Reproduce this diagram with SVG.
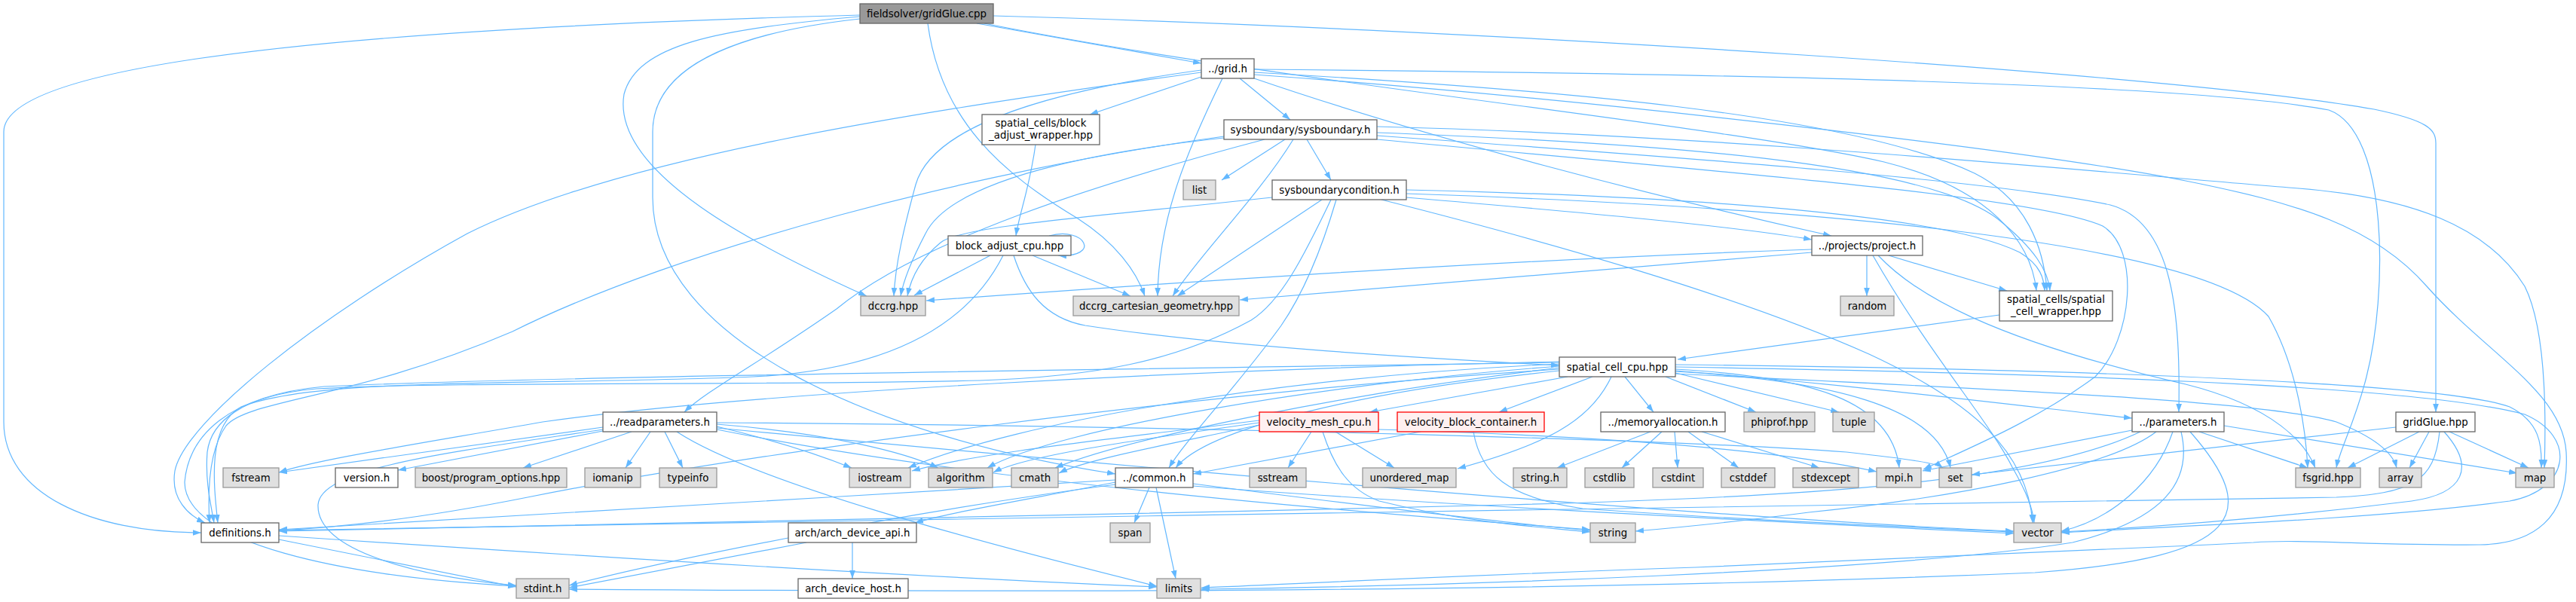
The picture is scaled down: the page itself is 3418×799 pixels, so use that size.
<svg xmlns="http://www.w3.org/2000/svg" width="3418" height="799" viewBox="0 0 3418 799">
<defs>
<marker id="ah" viewBox="0 0 10 7" refX="10" refY="3.5" markerWidth="11" markerHeight="8" markerUnits="userSpaceOnUse" orient="auto">
<path d="M0,0 L10,3.5 L0,7 z" fill="#63B8FF"/>
</marker>
<style>
.e{fill:none;stroke:#63B8FF;stroke-width:1.2;marker-end:url(#ah)}
.w{fill:#ffffff;stroke:#666666;stroke-width:1.3}
.g{fill:#E0E0E0;stroke:#999999;stroke-width:1.3}
.r{fill:#999999;stroke:#666666;stroke-width:1.3}
.x{fill:#FFF0F0;stroke:#FF0000;stroke-width:1.3}
text{font-family:"DejaVu Sans","Liberation Sans",sans-serif;font-size:13.33px;fill:#000000;text-anchor:middle}
</style>
</defs>
<rect width="3418" height="799" fill="#ffffff"/>
<g id="edges">
<path class="e" d="M1141,20 C400,40 5,90 5,175 L5,560 C5,655 120,707 267,707"/>
<path class="e" d="M1296,31 L1594,84"/>
<path class="e" d="M1141,22 C950,38 845,60 828,125 C810,230 1010,330 1150,393"/>
<path class="e" d="M1141,25 C960,45 866,95 866,175 L866,262 C866,450 1160,580 1480,629"/>
<path class="e" d="M1231,31 C1248,160 1330,230 1430,290 C1480,322 1508,360 1519,393"/>
<path class="e" d="M1306,31 C1700,110 2280,165 2500,215 C2640,250 2695,320 2702,386"/>
<path class="e" d="M1318,21 C2000,40 2900,100 3150,145 C3222,160 3232,172 3232,190 L3232,547"/>
<path class="e" d="M1594,102 L1446,152"/>
<path class="e" d="M1645,104 L1712,159"/>
<path class="e" d="M1622,104 C1575,200 1537,290 1536,393"/>
<path class="e" d="M1594,93 C1360,125 1235,175 1215,245 C1200,300 1188,350 1186,393"/>
<path class="e" d="M1594,96 C1200,150 820,210 620,310 C420,420 245,560 232,625 C226,662 250,684 272,694"/>
<path class="e" d="M1664,92 C2300,98 2900,110 3090,146 C3170,175 3168,390 3140,500 C3125,560 3104,598 3100,621"/>
<path class="e" d="M1664,104 C1900,185 2200,262 2430,313"/>
<path class="e" d="M1664,96 C2050,118 2450,150 2620,230 C2690,265 2712,330 2716,386"/>
<path class="e" d="M1664,99 C2100,130 2700,200 2900,240 C3050,270 3150,300 3220,380 C3300,470 3400,520 3405,600 C3410,690 3360,722 3290,723 C3150,724 3050,715 2990,720 C2700,735 2400,748 2250,753 C1900,765 1700,776 1594,780"/>
<path class="e" d="M1314,339 L1213,392"/>
<path class="e" d="M1370,339 L1500,393"/>
<path class="e" d="M1331,339 C1290,420 1200,490 1000,500 C700,512 420,500 320,540 C275,565 283,640 289,694"/>
<path class="e" d="M1345,339 C1360,385 1385,422 1440,432 C1620,460 1900,476 2069,485"/>
<path class="e" d="M1392,313 C1440,300 1462,342 1404,339"/>
<path class="e" d="M1374,192 C1366,250 1352,285 1348,313"/>
<path class="e" d="M1705,185 L1621,239"/>
<path class="e" d="M1734,185 L1766,239"/>
<path class="e" d="M1624,183 C1420,205 1260,245 1228,310 C1206,352 1198,376 1195,393"/>
<path class="e" d="M1716,185 C1670,260 1590,340 1556,393"/>
<path class="e" d="M1678,185 C1450,245 1220,320 1110,410 C1010,480 935,520 908,547"/>
<path class="e" d="M1624,181 C1300,225 900,330 680,440 C470,530 330,530 300,565 C275,600 276,660 278,694"/>
<path class="e" d="M1827,176 C2200,190 2550,215 2650,290 C2700,330 2718,360 2720,386"/>
<path class="e" d="M1827,168 C2300,180 2800,230 3050,250 C3200,262 3300,300 3350,380 C3380,440 3378,560 3376,621"/>
<path class="e" d="M1827,180 C2250,210 2650,240 2800,272 C2885,295 2893,420 2891,547"/>
<path class="e" d="M1827,185 C2300,230 2700,260 2790,300 C2840,330 2830,450 2780,500 C2700,560 2600,600 2552,623"/>
<path class="e" d="M1688,262 C1450,288 1275,300 1248,322 C1220,345 1208,372 1204,393"/>
<path class="e" d="M1754,265 L1562,393"/>
<path class="e" d="M1766,265 C1730,340 1700,400 1660,425 C1560,480 1450,500 1300,505 C1000,512 600,506 420,516 C320,525 280,560 275,600 C272,640 280,670 284,694"/>
<path class="e" d="M1773,265 C1748,350 1722,400 1700,432 C1640,515 1572,585 1551,621"/>
<path class="e" d="M1866,262 C2100,282 2300,300 2404,318"/>
<path class="e" d="M1866,252 C2300,262 2590,290 2680,335 C2708,352 2712,370 2713,386"/>
<path class="e" d="M1866,257 C2400,275 2920,320 3010,420 C3050,490 3060,580 3062,621"/>
<path class="e" d="M1833,265 C2050,320 2300,390 2480,470 C2620,535 2690,600 2697,694"/>
<path class="e" d="M2404,331 C2000,345 1600,372 1229,399"/>
<path class="e" d="M2404,335 C2100,360 1800,385 1645,398"/>
<path class="e" d="M2477,339 L2477,393"/>
<path class="e" d="M2506,339 L2663,386"/>
<path class="e" d="M2492,339 C2540,390 2640,450 2900,510 C3020,540 3060,590 3072,621"/>
<path class="e" d="M2485,339 C2560,470 2640,560 2670,620 C2690,655 2697,675 2699,694"/>
<path class="e" d="M2653,418 L2226,477"/>
<path class="e" d="M2080,500 L1817,547"/>
<path class="e" d="M2113,500 L1989,547"/>
<path class="e" d="M2156,500 L2194,547"/>
<path class="e" d="M2138,500 C2110,560 2050,590 1934,622"/>
<path class="e" d="M2210,500 L2330,547"/>
<path class="e" d="M2223,495 L2440,547"/>
<path class="e" d="M2223,492 C2450,510 2650,535 2829,555"/>
<path class="e" d="M2223,490 C2400,500 2510,530 2520,621"/>
<path class="e" d="M2223,493 C2430,505 2570,540 2588,621"/>
<path class="e" d="M2223,487 C2700,495 3200,510 3350,550 C3420,580 3410,650 3330,665 C3150,690 2850,700 2735,707"/>
<path class="e" d="M2223,484 C2800,490 3250,510 3330,540 C3370,560 3373,590 3372,621"/>
<path class="e" d="M2223,496 C2600,515 3000,530 3100,560 C3150,580 3175,600 3180,621"/>
<path class="e" d="M2069,483 C1700,500 1350,560 1205,621"/>
<path class="e" d="M2069,486 C1750,510 1400,570 1310,621"/>
<path class="e" d="M2069,488 C1800,520 1500,580 1400,621"/>
<path class="e" d="M2069,480 C1600,490 1000,520 720,560 C550,590 420,610 370,627"/>
<path class="e" d="M2069,490 C1600,520 1000,600 700,660 C550,690 450,700 370,704"/>
<path class="e" d="M2069,481 C1500,490 700,500 430,513 C300,525 250,580 245,640 C245,720 450,765 685,778"/>
<path class="e" d="M2069,492 C1800,520 1600,570 1560,621"/>
<path class="e" d="M1740,573 L1709,621"/>
<path class="e" d="M1772,573 L1850,621"/>
<path class="e" d="M1755,573 C1770,620 1790,650 1830,665 C1950,695 2050,700 2110,706"/>
<path class="e" d="M1671,558 C1500,580 1300,600 1210,625"/>
<path class="e" d="M1671,561 C1500,585 1360,605 1318,627"/>
<path class="e" d="M1671,564 C1550,590 1440,610 1405,628"/>
<path class="e" d="M1829,570 C2100,578 2350,595 2490,626"/>
<path class="e" d="M1885,573 L1583,629"/>
<path class="e" d="M1955,573 C1965,630 2000,660 2100,675 C2300,690 2550,700 2672,706"/>
<path class="e" d="M2190,573 L2066,621"/>
<path class="e" d="M2205,573 L2152,621"/>
<path class="e" d="M2222,573 L2226,621"/>
<path class="e" d="M2240,573 L2307,621"/>
<path class="e" d="M2258,573 L2414,621"/>
<path class="e" d="M800,567 L370,627"/>
<path class="e" d="M800,572 L528,624"/>
<path class="e" d="M838,573 L694,621"/>
<path class="e" d="M863,573 L830,621"/>
<path class="e" d="M882,573 L906,621"/>
<path class="e" d="M800,570 C600,600 425,620 422,670 C420,730 550,765 685,777"/>
<path class="e" d="M951,566 C1030,585 1090,605 1130,621"/>
<path class="e" d="M951,563 C1100,575 1200,600 1245,621"/>
<path class="e" d="M898,573 C1000,640 1300,720 1535,778"/>
<path class="e" d="M951,570 C1300,640 1800,680 2110,703"/>
<path class="e" d="M951,568 C1500,620 2300,690 2672,705"/>
<path class="e" d="M951,561 C1600,565 2250,585 2450,600 C2540,610 2570,615 2578,621"/>
<path class="e" d="M1525,647 L1505,694"/>
<path class="e" d="M1534,647 L1560,768"/>
<path class="e" d="M1583,642 C1800,670 2000,695 2110,704"/>
<path class="e" d="M1583,645 C1900,670 2400,695 2672,708"/>
<path class="e" d="M1480,637 C1100,660 600,690 370,703"/>
<path class="e" d="M1480,640 C1380,660 1260,680 1214,694"/>
<path class="e" d="M1480,643 C1200,680 900,740 755,777"/>
<path class="e" d="M370,716 L685,779"/>
<path class="e" d="M370,711 C800,740 1200,765 1535,779"/>
<path class="e" d="M1131,720 L1131,768"/>
<path class="e" d="M1070,720 L755,780"/>
<path class="e" d="M2829,571 L2551,625"/>
<path class="e" d="M2883,573 C2860,640 2800,690 2735,705"/>
<path class="e" d="M2894,573 C2910,640 2870,690 2750,720 C2500,760 1900,778 1593,782"/>
<path class="e" d="M2906,573 C3000,680 2980,740 2700,760 C2000,790 1200,785 755,782"/>
<path class="e" d="M2918,573 L3062,621"/>
<path class="e" d="M2951,565 L3340,628"/>
<path class="e" d="M2861,573 C2800,620 2600,660 2400,680 C2300,693 2230,700 2170,705"/>
<path class="e" d="M2840,573 C2700,640 2400,660 2000,670 C1400,685 700,700 370,705"/>
<path class="e" d="M3179,567 L2616,630"/>
<path class="e" d="M3210,573 L3115,621"/>
<path class="e" d="M3223,573 L3197,621"/>
<path class="e" d="M3250,573 L3355,621"/>
<path class="e" d="M3243,573 C3285,620 3270,655 3200,665 C3000,690 2850,700 2735,706"/>
<path class="e" d="M3237,573 C3230,640 3200,655 3100,660 C2400,670 1200,690 370,704"/>
</g>
<g id="nodes">
<g id="n_root"><rect class="r" x="1141" y="5" width="177" height="26"/><text x="1229.5" y="22.5">fieldsolver/gridGlue.cpp</text></g>
<g id="n_grid"><rect class="w" x="1594" y="78" width="70" height="26"/><text x="1629" y="95.5">../grid.h</text></g>
<g id="n_baw"><rect class="w" x="1303" y="152" width="156" height="40"/><text x="1381" y="168">spatial_cells/block</text><text x="1381" y="184">_adjust_wrapper.hpp</text></g>
<g id="n_sysb"><rect class="w" x="1624" y="159" width="203" height="26"/><text x="1725.5" y="176.5">sysboundary/sysboundary.h</text></g>
<g id="n_list"><rect class="g" x="1570" y="239" width="43" height="26"/><text x="1591.5" y="256.5">list</text></g>
<g id="n_sysbc"><rect class="w" x="1688" y="239" width="178" height="26"/><text x="1777" y="256.5">sysboundarycondition.h</text></g>
<g id="n_bac"><rect class="w" x="1258" y="313" width="163" height="26"/><text x="1339.5" y="330.5">block_adjust_cpu.hpp</text></g>
<g id="n_dccrg"><rect class="g" x="1142" y="393" width="86" height="26"/><text x="1185" y="410.5">dccrg.hpp</text></g>
<g id="n_dcg"><rect class="g" x="1424" y="393" width="220" height="26"/><text x="1534" y="410.5">dccrg_cartesian_geometry.hpp</text></g>
<g id="n_proj"><rect class="w" x="2404" y="313" width="147" height="26"/><text x="2477.5" y="330.5">../projects/project.h</text></g>
<g id="n_random"><rect class="g" x="2442" y="393" width="71" height="26"/><text x="2477.5" y="410.5">random</text></g>
<g id="n_scw"><rect class="w" x="2653" y="386" width="150" height="40"/><text x="2728" y="402">spatial_cells/spatial</text><text x="2728" y="418">_cell_wrapper.hpp</text></g>
<g id="n_scc"><rect class="w" x="2069" y="474" width="154" height="26"/><text x="2146" y="491.5">spatial_cell_cpu.hpp</text></g>
<g id="n_readp"><rect class="w" x="800" y="547" width="151" height="26"/><text x="875.5" y="564.5">../readparameters.h</text></g>
<g id="n_vmesh"><rect class="x" x="1671" y="547" width="158" height="26"/><text x="1750" y="564.5">velocity_mesh_cpu.h</text></g>
<g id="n_vbc"><rect class="x" x="1854" y="547" width="195" height="26"/><text x="1951.5" y="564.5">velocity_block_container.h</text></g>
<g id="n_memal"><rect class="w" x="2124" y="547" width="165" height="26"/><text x="2206.5" y="564.5">../memoryallocation.h</text></g>
<g id="n_phiprof"><rect class="g" x="2314" y="547" width="94" height="26"/><text x="2361" y="564.5">phiprof.hpp</text></g>
<g id="n_tuple"><rect class="g" x="2432" y="547" width="55" height="26"/><text x="2459.5" y="564.5">tuple</text></g>
<g id="n_params"><rect class="w" x="2829" y="547" width="122" height="26"/><text x="2890" y="564.5">../parameters.h</text></g>
<g id="n_ggh"><rect class="w" x="3179" y="547" width="105" height="26"/><text x="3231.5" y="564.5">gridGlue.hpp</text></g>
<g id="n_fstream"><rect class="g" x="296" y="621" width="74" height="26"/><text x="333" y="638.5">fstream</text></g>
<g id="n_version"><rect class="w" x="445" y="621" width="83" height="26"/><text x="486.5" y="638.5">version.h</text></g>
<g id="n_boost"><rect class="g" x="551" y="621" width="201" height="26"/><text x="651.5" y="638.5">boost/program_options.hpp</text></g>
<g id="n_iomanip"><rect class="g" x="776" y="621" width="74" height="26"/><text x="813" y="638.5">iomanip</text></g>
<g id="n_typeinfo"><rect class="g" x="875" y="621" width="76" height="26"/><text x="913" y="638.5">typeinfo</text></g>
<g id="n_iostream"><rect class="g" x="1127" y="621" width="81" height="26"/><text x="1167.5" y="638.5">iostream</text></g>
<g id="n_algorithm"><rect class="g" x="1232" y="621" width="85" height="26"/><text x="1274.5" y="638.5">algorithm</text></g>
<g id="n_cmath"><rect class="g" x="1342" y="621" width="62" height="26"/><text x="1373" y="638.5">cmath</text></g>
<g id="n_common"><rect class="w" x="1480" y="621" width="103" height="26"/><text x="1531.5" y="638.5">../common.h</text></g>
<g id="n_sstream"><rect class="g" x="1658" y="621" width="75" height="26"/><text x="1695.5" y="638.5">sstream</text></g>
<g id="n_umap"><rect class="g" x="1808" y="621" width="124" height="26"/><text x="1870" y="638.5">unordered_map</text></g>
<g id="n_stringh"><rect class="g" x="2008" y="621" width="71" height="26"/><text x="2043.5" y="638.5">string.h</text></g>
<g id="n_cstdlib"><rect class="g" x="2103" y="621" width="65" height="26"/><text x="2135.5" y="638.5">cstdlib</text></g>
<g id="n_cstdint"><rect class="g" x="2193" y="621" width="67" height="26"/><text x="2226.5" y="638.5">cstdint</text></g>
<g id="n_cstddef"><rect class="g" x="2284" y="621" width="71" height="26"/><text x="2319.5" y="638.5">cstddef</text></g>
<g id="n_stdexcept"><rect class="g" x="2379" y="621" width="87" height="26"/><text x="2422.5" y="638.5">stdexcept</text></g>
<g id="n_mpi"><rect class="g" x="2490" y="621" width="59" height="26"/><text x="2519.5" y="638.5">mpi.h</text></g>
<g id="n_set"><rect class="g" x="2573" y="621" width="43" height="26"/><text x="2594.5" y="638.5">set</text></g>
<g id="n_fsgrid"><rect class="g" x="3046" y="621" width="86" height="26"/><text x="3089" y="638.5">fsgrid.hpp</text></g>
<g id="n_array"><rect class="g" x="3157" y="621" width="56" height="26"/><text x="3185" y="638.5">array</text></g>
<g id="n_map"><rect class="g" x="3338" y="621" width="51" height="26"/><text x="3363.5" y="638.5">map</text></g>
<g id="n_defs"><rect class="w" x="267" y="694" width="103" height="26"/><text x="318.5" y="711.5">definitions.h</text></g>
<g id="n_archapi"><rect class="w" x="1046" y="694" width="170" height="26"/><text x="1131" y="711.5">arch/arch_device_api.h</text></g>
<g id="n_span"><rect class="g" x="1473" y="694" width="53" height="26"/><text x="1499.5" y="711.5">span</text></g>
<g id="n_string"><rect class="g" x="2110" y="694" width="60" height="26"/><text x="2140" y="711.5">string</text></g>
<g id="n_vector"><rect class="g" x="2672" y="694" width="63" height="26"/><text x="2703.5" y="711.5">vector</text></g>
<g id="n_stdint"><rect class="g" x="685" y="768" width="70" height="26"/><text x="720" y="785.5">stdint.h</text></g>
<g id="n_archhost"><rect class="w" x="1059" y="768" width="146" height="26"/><text x="1132" y="785.5">arch_device_host.h</text></g>
<g id="n_limits"><rect class="g" x="1535" y="768" width="58" height="26"/><text x="1564" y="785.5">limits</text></g>
</g>
</svg>
